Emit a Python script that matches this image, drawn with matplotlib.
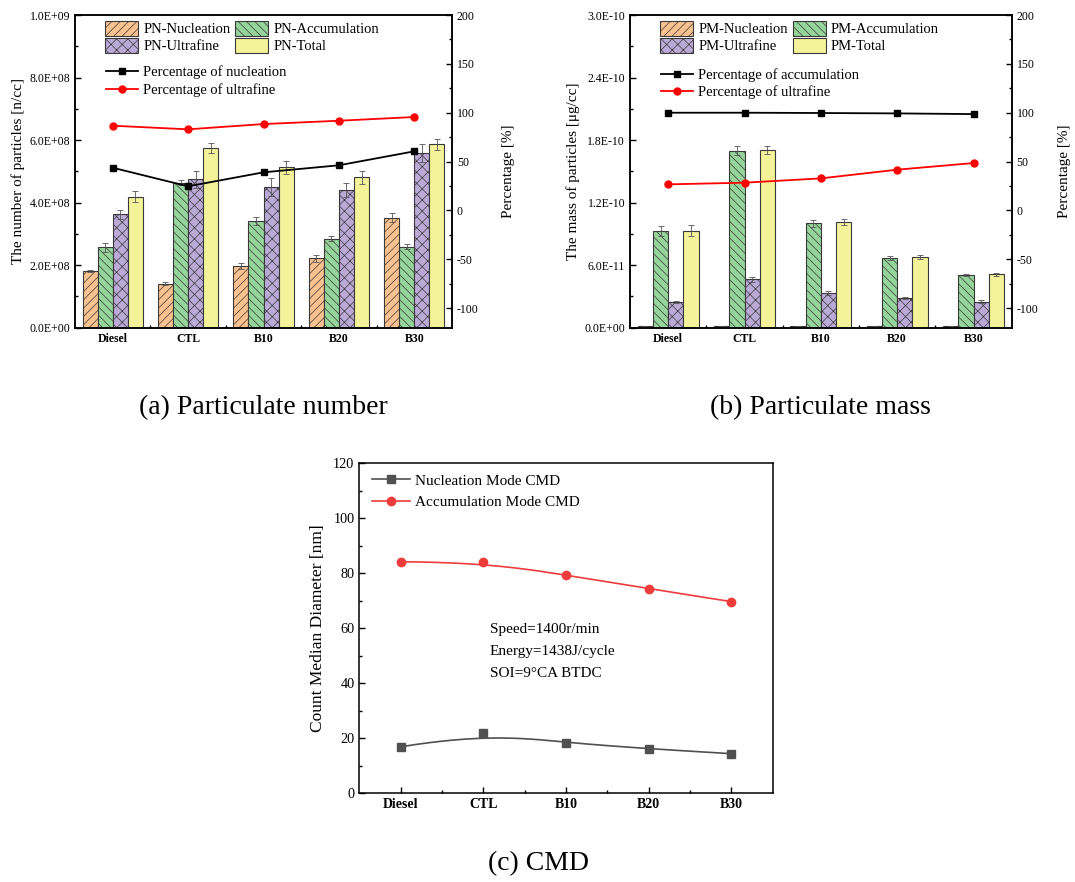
import numpy as np
import matplotlib
matplotlib.use("Agg")
import matplotlib.pyplot as plt
from matplotlib.ticker import FuncFormatter, MultipleLocator, NullFormatter
from matplotlib.patches import Patch
from matplotlib.lines import Line2D

plt.rcParams['font.family'] = ['Liberation Serif', 'DejaVu Serif']
plt.rcParams['hatch.linewidth'] = 0.5
plt.rcParams['axes.unicode_minus'] = False

# ---------------- data ----------------
fuels = ["Diesel", "CTL", "B10", "B20", "B30"]

# particle number [n/cc]
pn_nucleation = [1.81e8, 1.41e8, 1.97e8, 2.22e8, 3.52e8]
pn_accumulation = [2.57e8, 4.64e8, 3.41e8, 2.85e8, 2.59e8]
pn_ultrafine = [3.63e8, 4.75e8, 4.51e8, 4.41e8, 5.58e8]
pn_total = [4.19e8, 5.76e8, 5.13e8, 4.81e8, 5.86e8]
pn_nucleation_err = [4e6, 4e6, 1.0e7, 1.1e7, 1.4e7]
pn_accumulation_err = [1.5e7, 8.6e6, 1.2e7, 8.5e6, 8.5e6]
pn_ultrafine_err = [1.4e7, 2.7e7, 2.9e7, 2.2e7, 2.9e7]
pn_total_err = [1.8e7, 1.6e7, 2.0e7, 2.1e7, 1.8e7]
pn_pct_nucleation = [43.7, 24.7, 39.0, 46.2, 60.5]
pn_pct_ultrafine = [86.7, 83.0, 88.4, 91.8, 95.6]

# particle mass [ug/cc]
pm_nucleation = [1.5e-12, 1.5e-12, 1.5e-12, 1.5e-12, 1.5e-12]
pm_accumulation = [9.25e-11, 1.70e-10, 1.00e-10, 6.69e-11, 5.03e-11]
pm_ultrafine = [2.49e-11, 4.64e-11, 3.33e-11, 2.85e-11, 2.49e-11]
pm_total = [9.30e-11, 1.707e-10, 1.014e-10, 6.78e-11, 5.12e-11]
pm_nucleation_err = [0, 0, 0, 0, 0]
pm_accumulation_err = [4.8e-12, 4.2e-12, 3.5e-12, 2.2e-12, 1.0e-12]
pm_ultrafine_err = [1.0e-12, 2.6e-12, 1.9e-12, 1.0e-12, 1.3e-12]
pm_total_err = [5.4e-12, 3.8e-12, 3.2e-12, 2.2e-12, 1.3e-12]
pm_pct_accumulation = [100.0, 100.0, 99.7, 99.3, 98.6]
pm_pct_ultrafine = [26.7, 28.4, 32.8, 41.7, 48.5]

# count median diameter [nm]
cmd_nucleation = [16.9, 21.8, 18.2, 16.2, 14.4]
cmd_accumulation = [84.2, 84.0, 79.4, 74.4, 69.7]

# ---------------- styles ----------------
C_NUC = '#FBC28F'
C_ACC = '#95D49B'
C_ULT = '#BBA9D8'
C_TOT = '#F4F39A'
EDGE = '#3a3a3a'
TICK_FS = 8.5
LAB_FS = 11
LEG_FS = 10.5

fig = plt.figure(figsize=(10.75, 8.82), dpi=100)


def clamped_bspline(px, py, n=300):
    """Cubic B-spline curve using the given points as control points."""
    k = 3
    m = len(px)
    knots = np.concatenate([np.zeros(k), np.arange(0, m - k + 1), np.full(k, m - k)]).astype(float)
    t = np.linspace(0, m - k, n)
    t[-1] -= 1e-9

    def basis(i, p):
        if p == 0:
            return np.where((knots[i] <= t) & (t < knots[i + 1]), 1.0, 0.0)
        out = np.zeros_like(t)
        d1 = knots[i + p] - knots[i]
        d2 = knots[i + p + 1] - knots[i + 1]
        if d1 > 0:
            out += (t - knots[i]) / d1 * basis(i, p - 1)
        if d2 > 0:
            out += (knots[i + p + 1] - t) / d2 * basis(i + 1, p - 1)
        return out

    B = np.array([basis(i, k) for i in range(m)])
    return B.T @ np.asarray(px, float), B.T @ np.asarray(py, float)


def style_axis(ax, fs):
    for s in ax.spines.values():
        s.set_linewidth(1.1)
    ax.tick_params(which='both', direction='in', labelsize=fs, width=1.0)
    ax.tick_params(which='major', length=4.5)
    ax.tick_params(which='minor', length=2.5)


def bar_panel(rect, series, errs, names, pct_a, pct_b, pct_labels, ylim, ystep, ylabel,
              leg_y2, lab_left, lab_right):
    ax = fig.add_axes(rect)
    x = np.arange(len(fuels))
    width = 0.2
    offsets = [-0.3, -0.1, 0.1, 0.3]
    colors = [C_NUC, C_ACC, C_ULT, C_TOT]
    hatches = ['////', '\\\\\\\\', 'xxx', '']
    handles = []
    for vals, err, off, col, hat, nm in zip(series, errs, offsets, colors, hatches, names):
        ax.bar(x + off, vals, width, color=col, edgecolor=EDGE, linewidth=0.8, hatch=hat,
               yerr=err, error_kw=dict(ecolor='#555555', elinewidth=0.6, capsize=2.5, capthick=0.6),
               zorder=2)
        handles.append(Patch(facecolor=col, edgecolor=EDGE, linewidth=0.8, hatch=hat, label=nm))
    ax.set_xlim(-0.5, len(fuels) - 0.5)
    ax.set_ylim(*ylim)
    ax.set_xticks(x)
    ax.set_xticklabels(fuels)
    ax.set_xticks(np.arange(0.5, len(fuels) - 1, 1.0), minor=True)
    ax.yaxis.set_major_locator(MultipleLocator(ystep))
    ax.yaxis.set_minor_locator(MultipleLocator(ystep / 2))
    ax.yaxis.set_major_formatter(FuncFormatter(lambda v, p: f"{v:.1E}"))
    ax.yaxis.get_offset_text().set_visible(False)
    style_axis(ax, TICK_FS)
    for lab in ax.get_xticklabels():
        lab.set_fontweight('bold')
        lab.set_fontsize(TICK_FS)
    ax.set_ylabel(ylabel, fontsize=LAB_FS)
    ax.yaxis.set_label_coords(lab_left, 0.5)

    ax2 = ax.twinx()
    l1, = ax2.plot(x, pct_a, color='black', lw=1.3, marker='s', ms=4.5, label=pct_labels[0])
    l2, = ax2.plot(x, pct_b, color='#FF0000', lw=1.3, marker='o', ms=5, label=pct_labels[1])
    ax2.set_ylim(-120, 200)
    ax2.yaxis.set_major_locator(MultipleLocator(50))
    ax2.yaxis.set_minor_locator(MultipleLocator(25))
    style_axis(ax2, TICK_FS)
    ax2.set_ylabel("Percentage [%]", fontsize=LAB_FS, rotation=90)
    ax2.yaxis.set_label_coords(lab_right, 0.5)

    order = [handles[0], handles[2], handles[1], handles[3]]
    leg1 = ax2.legend(handles=order, ncol=2, loc='upper left', bbox_to_anchor=(0.079, 0.982),
                      frameon=False, fontsize=LEG_FS, handlelength=2.27, handleheight=1.2,
                      handletextpad=0.36, labelspacing=0.12, columnspacing=0.32,
                      borderpad=0, borderaxespad=0)
    ax2.add_artist(leg1)
    ax2.legend(handles=[l1, l2], loc='upper left', bbox_to_anchor=(0.081, leg_y2),
               frameon=False, fontsize=LEG_FS, handlelength=2.2, handletextpad=0.36,
               labelspacing=0.25, borderpad=0, borderaxespad=0)
    return ax, ax2


W, H = 1075, 882
bar_panel([75 / W, (H - 327.7) / H, 377 / W, 312.7 / H],
          [pn_nucleation, pn_accumulation, pn_ultrafine, pn_total],
          [pn_nucleation_err, pn_accumulation_err, pn_ultrafine_err, pn_total_err],
          ["PN-Nucleation", "PN-Accumulation", "PN-Ultrafine", "PN-Total"],
          pn_pct_nucleation, pn_pct_ultrafine,
          ["Percentage of nucleation", "Percentage of ultrafine"],
          (0, 1.0e9), 2.0e8, "The number of particles [n/cc]", 0.838, -0.133, 1.133)

bar_panel([630 / W, (H - 327.7) / H, 381.7 / W, 312.7 / H],
          [pm_nucleation, pm_accumulation, pm_ultrafine, pm_total],
          [pm_nucleation_err, pm_accumulation_err, pm_ultrafine_err, pm_total_err],
          ["PM-Nucleation", "PM-Accumulation", "PM-Ultrafine", "PM-Total"],
          pm_pct_accumulation, pm_pct_ultrafine,
          ["Percentage of accumulation", "Percentage of ultrafine"],
          (0, 3.0e-10), 6.0e-11, "The mass of particles [μg/cc]", 0.831, -0.131, 1.121)

# ---------------- CMD panel ----------------
axc = fig.add_axes([359.3 / W, (H - 793.3) / H, 413.4 / W, 330 / H])
xc = np.arange(len(fuels))
sx, sy = clamped_bspline(xc, cmd_nucleation)
axc.plot(sx, sy, color='#505050', lw=1.2)
axc.plot(xc, cmd_nucleation, ls='none', marker='s', ms=5.5, color='#505050')
ax_, ay_ = clamped_bspline(xc, cmd_accumulation)
axc.plot(ax_, ay_, color='#EE3B3B', lw=1.2)
axc.plot(xc, cmd_accumulation, ls='none', marker='o', ms=6, color='#EE3B3B')
h1 = Line2D([], [], color='#505050', lw=1.2, marker='s', ms=5.5, label='Nucleation Mode CMD')
h2 = Line2D([], [], color='#EE3B3B', lw=1.2, marker='o', ms=6, label='Accumulation Mode CMD')
axc.legend(handles=[h1, h2], loc='upper left', bbox_to_anchor=(0.03, 0.968), frameon=False,
           fontsize=11, handlelength=2.5, handletextpad=0.33, labelspacing=0.5,
           borderpad=0, borderaxespad=0)
axc.set_xlim(-0.5, len(fuels) - 0.5)
axc.set_ylim(0, 120)
axc.set_xticks(xc)
axc.set_xticklabels(fuels)
axc.set_xticks(np.arange(0.5, len(fuels) - 1, 1.0), minor=True)
axc.yaxis.set_major_locator(MultipleLocator(20))
axc.yaxis.set_minor_locator(MultipleLocator(10))
style_axis(axc, 10.3)
axc.tick_params(which='both', right=False, top=False)
for lab in axc.get_xticklabels():
    lab.set_fontweight('bold')
    lab.set_fontsize(10)
axc.set_ylabel("Count Median Diameter [nm]", fontsize=12.5)
axc.yaxis.set_label_coords(-0.08, 0.5)
axc.text(0.316, 0.495, "Speed=1400r/min", transform=axc.transAxes, fontsize=11, va='center')
axc.text(0.316, 0.431, "Energy=1438J/cycle", transform=axc.transAxes, fontsize=11, va='center')
axc.text(0.316, 0.364, "SOI=9°CA BTDC", transform=axc.transAxes, fontsize=11, va='center')

# ---------------- captions ----------------
fig.text(263 / W, 1 - 408 / H, "(a) Particulate number", fontsize=20, ha='center', va='center')
fig.text(820 / W, 1 - 408 / H, "(b) Particulate mass", fontsize=20, ha='center', va='center')
fig.text(539 / W, 1 - 864 / H, "(c) CMD", fontsize=20, ha='center', va='center')

fig.savefig("out.png", dpi=100, facecolor='white')
